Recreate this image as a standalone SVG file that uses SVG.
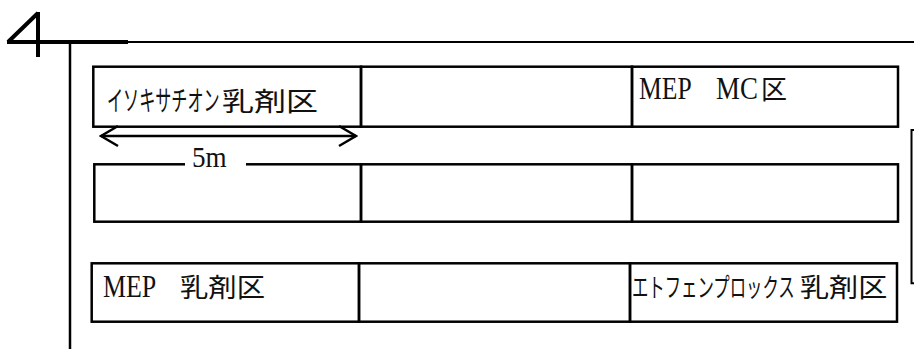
<svg xmlns="http://www.w3.org/2000/svg" width="914" height="349" viewBox="0 0 914 349">
<style>
.cell{fill:none;stroke:#000;stroke-width:2.5}
.lat{font-family:"Liberation Serif","Noto Sans CJK JP",serif;fill:#111}
.cjk{font-family:"Noto Sans CJK JP","Liberation Serif",serif;fill:#111}
.frame{fill:none;stroke:#000}
</style>
<defs>
<marker id="chev" viewBox="-19 -12 21 24" markerWidth="21" markerHeight="24" refX="0" refY="0" orient="auto-start-reverse" markerUnits="userSpaceOnUse">
<path d="M-17,-10 L0,0 L-17,10" fill="none" stroke="#000" stroke-width="2.5"/>
</marker>
</defs>
<rect width="914" height="349" fill="#fff"/>
<g id="frame">
<path class="frame" stroke-width="4" d="M8,42 L38,13 M38,12 V57 M7,42 H128"/>
<path class="frame" stroke-width="2" d="M128,42 H914"/>
<path class="frame" stroke-width="2.5" d="M70,42 V349"/>
<path class="frame" stroke-width="2" d="M914,130 H911.5 V283.3 H914"/>
</g>
<g id="cell-r1c1">
<rect class="cell" x="93.3" y="66.7" width="267.7" height="60"/>
<text class="cjk" transform="translate(107,111) scale(0.575,1)" font-size="28">イソキサチオン</text>
<text class="cjk" transform="translate(222,111) scale(1.23,1)" font-size="26">乳剤区</text>
</g>
<g id="cell-r1c2"><rect class="cell" x="361" y="66.7" width="271" height="60"/></g>
<g id="cell-r1c3">
<rect class="cell" x="632" y="66.7" width="266" height="60"/>
<text class="lat" transform="translate(639,99) scale(0.8,1)" font-size="32">MEP</text>
<text class="lat" transform="translate(716,99) scale(0.84,1)" font-size="32">MC</text>
<text class="cjk" transform="translate(761,98.5) scale(1.0,1)" font-size="26">区</text>
</g>
<g id="cell-r2c1">
<rect class="cell" x="94.3" y="164.3" width="266.7" height="57.4"/>
</g>
<g id="cell-r2c2"><rect class="cell" x="361" y="164.3" width="271" height="57.4"/></g>
<g id="cell-r2c3"><rect class="cell" x="632" y="164.3" width="266" height="57.4"/></g>
<g id="cell-r3c1">
<rect class="cell" x="91.7" y="263.3" width="267.3" height="58.4"/>
<text class="lat" transform="translate(103,297) scale(0.81,1)" font-size="32">MEP</text>
<text class="cjk" transform="translate(180,297) scale(1.09,1)" font-size="26">乳剤区</text>
</g>
<g id="cell-r3c2"><rect class="cell" x="359" y="263.3" width="271" height="58.4"/></g>
<g id="cell-r3c3">
<rect class="cell" x="630" y="263.3" width="267" height="58.4"/>
<text class="cjk" transform="translate(632,297) scale(0.63,1)" font-size="26">エトフェンプロックス</text>
<text class="cjk" transform="translate(800,297) scale(1.12,1)" font-size="26">乳剤区</text>
</g>
<g id="connectors">
<line x1="101" y1="136" x2="356" y2="136" stroke="#000" stroke-width="2.5" marker-start="url(#chev)" marker-end="url(#chev)"/>
<rect x="185" y="158" width="61" height="12" fill="#fff"/>
<text class="lat" transform="translate(192,167) scale(0.92,1)" font-size="29.5">5m</text>
</g>
</svg>
